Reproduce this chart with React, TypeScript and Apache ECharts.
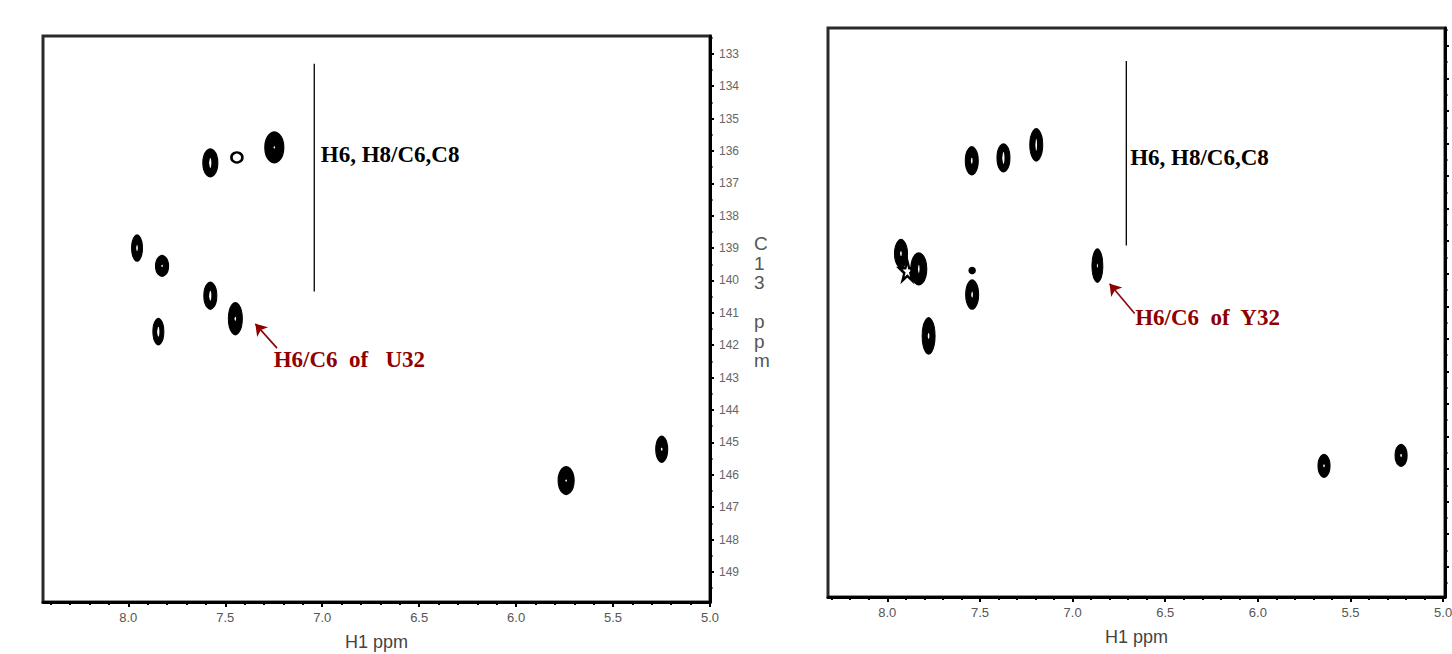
import React, { useEffect, useRef } from "react";
import * as echarts from "echarts";

// ---------- Left spectrum (U32) ----------
const leftPeakH1 = [7.577, 7.247, 7.955, 7.826, 7.577, 7.448, 7.845, 5.742, 5.249];
const leftPeakC13 = [136.37, 135.89, 139.0, 139.55, 140.47, 141.18, 141.58, 146.18, 145.21];
const leftPeakW = [15, 19, 11, 13, 13, 14, 11, 16, 12];
const leftPeakH = [27, 30, 25, 20, 26, 31, 25, 27, 25];
const leftCoreW = [2, 1.5, 1.5, 1.5, 2, 1.5, 2, 1.5, 1.5];
const leftCoreH = [10, 2, 6, 2, 10, 4, 10, 2, 3];
const leftRingH1 = [7.44];
const leftRingC13 = [136.2];

// ---------- Right spectrum (Y32) ----------
const rightPeakH1 = [7.544, 7.373, 7.196, 7.926, 7.83, 7.542, 7.542, 6.866, 7.777, 5.643, 5.227];
const rightPeakC13 = [136.53, 136.44, 136.04, 139.38, 139.85, 139.9, 140.64, 139.75, 141.91, 145.9, 145.58];
const rightPeakW = [13, 13, 13, 13, 16, 6, 13, 11, 13, 12, 12];
const rightPeakH = [27, 27, 31, 27, 31, 6, 28, 32, 35, 22, 21];
const rightCoreW = [1.5, 2, 1.5, 1.5, 1.5, 0, 1.5, 1, 1.5, 1.5, 1.5];
const rightCoreH = [6, 12, 12, 5, 8, 0, 6, 4, 6, 3, 3];
const rightStarH1 = [7.892];
const rightStarC13 = [139.9];

// ---------- Axes ----------
const xMajorTicks = [5.0, 5.5, 6.0, 6.5, 7.0, 7.5, 8.0];
const yMajorTicks = [133, 134, 135, 136, 137, 138, 139, 140, 141, 142, 143, 144, 145, 146, 147, 148, 149];
const leftXRange = [5.0, 8.44];
const rightXRange = [4.99, 8.32];
const yRange = [132.45, 149.93];

// ---------- Annotations ----------
const groupLabel = "H6, H8/C6,C8";
const leftGroupLine = [[7.041, 133.31], [7.041, 140.34]];
const rightGroupLine = [[6.71, 133.46], [6.71, 139.13]];
const leftGroupLabelPos = [7.01, 136.11];
const rightGroupLabelPos = [6.692, 136.43];
const leftArrowLabel = "H6/C6  of   U32";
const rightArrowLabel = "H6/C6  of  Y32";
const leftArrow = [[7.233, 142.09], [7.345, 141.34]];
const rightArrow = [[6.665, 141.22], [6.8, 140.31]];
const leftArrowLabelPos = [7.253, 142.45];
const rightArrowLabelPos = [6.665, 141.33];

function minorTicks(lo: number, hi: number, step: number, major: number[]) {
  const out: number[] = [];
  const n = Math.round((hi - lo) / step);
  for (let i = 0; i <= n; i++) {
    const v = Math.round((lo + i * step) * 100) / 100;
    if (!major.some((m) => Math.abs(m - v) < 1e-6)) out.push(v);
  }
  return out;
}

const AXIS_FONT = "Liberation Sans, Arial, sans-serif";
const SERIF = "Liberation Serif, Times New Roman, serif";
const DARK_RED = "#8f0000";

function buildPanel(
  gi: number,
  xRange: number[],
  showYLabels: boolean,
  peaks: { h1: number[]; c13: number[]; w: number[]; h: number[]; cw: number[]; ch: number[] },
  groupLine: number[][],
  groupLabelPos: number[],
  arrow: number[][],
  arrowLabel: string,
  arrowLabelPos: number[]
) {
  const xMinor = minorTicks(5.0, Math.floor(xRange[1] * 10) / 10, 0.1, xMajorTicks);
  const yMinor = minorTicks(132.5, 149.5, 0.5, yMajorTicks);
  const xAxes = [
    {
      type: "value",
      gridIndex: gi,
      min: xRange[0],
      max: xRange[1],
      inverse: true,
      position: "bottom",
      name: "H1 ppm",
      nameLocation: "middle",
      nameGap: 31,
      nameTextStyle: { fontSize: 18, color: "#444", fontFamily: AXIS_FONT },
      axisLine: { show: true, onZero: false, lineStyle: { color: "#000", width: 3 } },
      axisTick: { show: true, customValues: xMajorTicks, length: 5, lineStyle: { color: "#000", width: 2 } },
      axisLabel: {
        show: true,
        customValues: xMajorTicks,
        formatter: (v: number) => v.toFixed(1),
        fontSize: 13,
        color: "#555",
        fontFamily: AXIS_FONT,
        margin: 9,
      },
      splitLine: { show: false },
    },
    {
      type: "value",
      gridIndex: gi,
      min: xRange[0],
      max: xRange[1],
      inverse: true,
      position: "bottom",
      axisLine: { show: false, onZero: false },
      axisTick: { show: true, customValues: xMinor, length: 3, lineStyle: { color: "#000", width: 2 } },
      axisLabel: { show: false },
      splitLine: { show: false },
    },
  ];
  const yAxes = [
    {
      type: "value",
      gridIndex: gi,
      min: yRange[0],
      max: yRange[1],
      inverse: true,
      position: "right",
      axisLine: { show: true, onZero: false, lineStyle: { color: "#000", width: 3 } },
      axisTick: { show: true, customValues: yMajorTicks, length: 4, lineStyle: { color: "#000", width: 2 } },
      axisLabel: {
        show: showYLabels,
        customValues: yMajorTicks,
        fontSize: 12,
        color: "#666",
        fontFamily: AXIS_FONT,
        margin: 9,
      },
      splitLine: { show: false },
    },
    {
      type: "value",
      gridIndex: gi,
      min: yRange[0],
      max: yRange[1],
      inverse: true,
      position: "right",
      axisLine: { show: false, onZero: false },
      axisTick: { show: true, customValues: yMinor, length: 2.5, lineStyle: { color: "#000", width: 2 } },
      axisLabel: { show: false },
      splitLine: { show: false },
    },
  ];
  const xi = gi * 2;
  const yi = gi * 2;
  const series: any[] = [
    {
      type: "scatter",
      xAxisIndex: xi,
      yAxisIndex: yi,
      symbol: "circle",
      silent: true,
      itemStyle: { color: "#000", borderColor: "#000", borderWidth: 1.5, opacity: 1 },
      data: peaks.h1.map((x, i) => ({ value: [x, peaks.c13[i]], symbolSize: [peaks.w[i], peaks.h[i]] })),
      z: 3,
    },
    {
      type: "scatter",
      xAxisIndex: xi,
      yAxisIndex: yi,
      symbol: "circle",
      silent: true,
      itemStyle: { color: "#fff", borderWidth: 0, opacity: 1 },
      data: peaks.h1.map((x, i) => ({ value: [x, peaks.c13[i]], symbolSize: [peaks.cw[i], peaks.ch[i]] })),
      z: 4,
    },
    {
      type: "line",
      xAxisIndex: xi,
      yAxisIndex: yi,
      silent: true,
      symbol: "none",
      lineStyle: { color: "#000", width: 1.3, opacity: 1 },
      data: groupLine,
      z: 2,
    },
    {
      type: "scatter",
      xAxisIndex: xi,
      yAxisIndex: yi,
      silent: true,
      symbolSize: 1,
      itemStyle: { opacity: 1, color: "transparent" },
      data: [{ value: groupLabelPos }],
      label: {
        show: true,
        position: "right",
        distance: 0,
        formatter: groupLabel,
        fontFamily: SERIF,
        fontWeight: "bold",
        fontSize: 23,
        color: "#000",
        opacity: 1,
      },
      z: 5,
    },
    {
      type: "scatter",
      xAxisIndex: xi,
      yAxisIndex: yi,
      silent: true,
      symbolSize: 1,
      itemStyle: { opacity: 1, color: "transparent" },
      data: [{ value: arrowLabelPos }],
      label: {
        show: true,
        position: "right",
        distance: 0,
        formatter: arrowLabel,
        fontFamily: SERIF,
        fontWeight: "bold",
        fontSize: 23,
        color: DARK_RED,
        opacity: 1,
      },
      z: 5,
    },
    {
      type: "line",
      xAxisIndex: xi,
      yAxisIndex: yi,
      silent: true,
      data: [],
      markLine: {
        silent: true,
        symbol: ["none", "arrow"],
        symbolSize: 11,
        label: { show: false },
        itemStyle: { color: DARK_RED, opacity: 1 },
        lineStyle: { color: DARK_RED, width: 1.6, type: "solid", opacity: 1 },
        emphasis: { disabled: true },
        data: [[{ coord: arrow[0] }, { coord: arrow[1] }]],
      },
      z: 5,
    },
  ];
  return { xAxes, yAxes, series };
}

export default function App() {
  const ref = useRef<HTMLDivElement>(null);
  useEffect(() => {
    if (!ref.current) return;
    const chart = echarts.init(ref.current, null, { renderer: "svg" });
    const left = buildPanel(
      0,
      leftXRange,
      true,
      { h1: leftPeakH1, c13: leftPeakC13, w: leftPeakW, h: leftPeakH, cw: leftCoreW, ch: leftCoreH },
      leftGroupLine,
      leftGroupLabelPos,
      leftArrow,
      leftArrowLabel,
      leftArrowLabelPos
    );
    const right = buildPanel(
      1,
      rightXRange,
      false,
      { h1: rightPeakH1, c13: rightPeakC13, w: rightPeakW, h: rightPeakH, cw: rightCoreW, ch: rightCoreH },
      rightGroupLine,
      rightGroupLabelPos,
      rightArrow,
      rightArrowLabel,
      rightArrowLabelPos
    );
    const extra: any[] = [
      {
        type: "scatter",
        xAxisIndex: 0,
        yAxisIndex: 0,
        silent: true,
        symbol: "circle",
        symbolSize: [11, 10],
        itemStyle: { color: "#fff", borderColor: "#000", borderWidth: 2.5, opacity: 1 },
        data: leftRingH1.map((x, i) => [x, leftRingC13[i]]),
        z: 3,
      },
      {
        type: "scatter",
        xAxisIndex: 2,
        yAxisIndex: 2,
        silent: true,
        symbol: "path://M50,0 L61,35 L98,35 L68,57 L79,91 L50,70 L21,91 L32,57 L2,35 L39,35 Z",
        symbolSize: [16, 20],
        itemStyle: { color: "#fff", borderColor: "#000", borderWidth: 2.5, opacity: 1 },
        data: rightStarH1.map((x, i) => [x, rightStarC13[i]]),
        z: 2,
      },
    ];
    chart.setOption({
      animation: false,
      backgroundColor: "#fff",
      grid: [
        {
          left: 43, top: 36, width: 667, height: 566, show: true, borderColor: "#2a2a2a", borderWidth: 3,
          backgroundColor: "transparent", containLabel: false, outerBoundsMode: "none",
        },
        {
          left: 828, top: 28, width: 617, height: 569, show: true, borderColor: "#2a2a2a", borderWidth: 3,
          backgroundColor: "transparent", containLabel: false, outerBoundsMode: "none",
        },
      ],
      xAxis: [...left.xAxes, ...right.xAxes],
      yAxis: [...left.yAxes, ...right.yAxes],
      series: [...left.series, ...right.series, ...extra],
      graphic: [
        {
          type: "text",
          left: 754,
          top: 234,
          silent: true,
          style: {
            text: "C\n1\n3\n\np\np\nm",
            fontSize: 19,
            lineHeight: 19.5,
            fontFamily: AXIS_FONT,
            fill: "#555",
          },
        },
      ],
    });
    return () => chart.dispose();
  }, []);
  return (
    <div
      ref={ref}
      style={{ position: "absolute", left: 0, top: 0, width: 1452, height: 654, background: "#fff" }}
    />
  );
}
